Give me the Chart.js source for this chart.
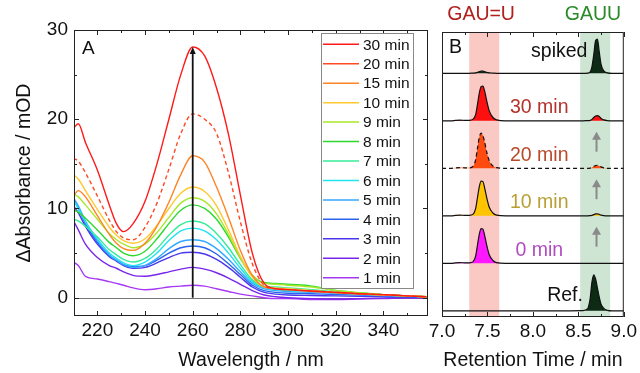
<!DOCTYPE html>
<html>
<head>
<meta charset="utf-8">
<script src="https://cdn.jsdelivr.net/npm/chart.js@4.4.1/dist/chart.umd.min.js"></script>
<style>
  body { margin: 0; background: #fff; width: 640px; height: 373px; position: relative; overflow: hidden; }
  canvas { position: absolute; top: 0; }
  #chartA { left: 0; }
  #chartB { left: 420px; }
</style>
</head>
<body>
<canvas id="chartA" width="436" height="373"></canvas>
<canvas id="chartB" width="220" height="373"></canvas>
<script>
// ---- panel A : difference spectra ----
const wavelengths = [210, 212, 215, 220, 225, 228, 231, 235, 240, 245, 250, 255, 260, 265, 270, 275, 280, 285, 290, 295, 300, 310, 320, 330, 340, 350, 358];
const seriesLabels = ["30 min", "20 min", "15 min", "10 min", "9 min", "8 min", "7 min", "6 min", "5 min", "4 min", "3 min", "2 min", "1 min"];
const abs30 = [19.0, 19.5, 17.4, 14.3, 10.4, 8.3, 7.4, 8.3, 10.8, 15.0, 20.0, 25.0, 28.1, 27.1, 23.5, 18.3, 11.5, 5.0, 1.6, 1.0, 0.9, 0.75, 0.6, 0.45, 0.35, 0.2, 0.1];
const abs20 = [15.6, 15.3, 14.0, 11.4, 8.7, 7.4, 6.7, 6.5, 7.9, 10.6, 14.4, 18.4, 20.6, 20.0, 18.4, 14.0, 8.5, 3.8, 1.4, 1.0, 0.9, 0.75, 0.6, 0.45, 0.35, 0.2, 0.1];
const abs15 = [11.4, 12.0, 11.3, 9.2, 7.1, 6.1, 5.5, 5.3, 6.1, 8.0, 10.7, 13.8, 15.9, 15.2, 12.4, 9.0, 5.3, 2.5, 1.2, 1.0, 0.9, 0.7, 0.55, 0.4, 0.3, 0.2, 0.1];
const abs10 = [13.8, 13.3, 12.0, 9.9, 7.9, 7.0, 6.4, 6.1, 6.6, 8.1, 10.0, 11.7, 12.4, 11.9, 10.3, 7.6, 4.6, 2.3, 1.2, 1.1, 1.0, 0.8, 0.6, 0.45, 0.3, 0.2, 0.1];
const abs9 = [11.6, 11.3, 10.4, 8.8, 7.2, 6.5, 6.0, 5.6, 6.0, 7.3, 9.0, 10.6, 11.2, 10.8, 9.4, 7.1, 4.5, 2.5, 1.6, 1.5, 1.4, 1.2, 0.8, 0.55, 0.35, 0.2, 0.1];
const abs8 = [9.8, 9.6, 8.9, 7.6, 6.2, 5.6, 5.0, 4.7, 5.2, 6.6, 8.3, 9.8, 10.4, 10.0, 8.8, 6.8, 4.4, 2.5, 1.7, 1.6, 1.5, 1.3, 0.8, 0.55, 0.35, 0.2, 0.1];
const abs7 = [8.8, 8.6, 8.0, 6.8, 5.4, 4.8, 4.3, 4.0, 4.4, 5.5, 7.0, 8.2, 8.6, 8.3, 7.2, 5.6, 3.7, 2.0, 1.3, 1.2, 1.1, 0.9, 0.65, 0.45, 0.3, 0.2, 0.1];
const abs6 = [10.9, 10.0, 8.5, 6.6, 5.0, 4.4, 3.9, 3.6, 4.0, 5.0, 6.4, 7.5, 7.8, 7.5, 6.5, 5.0, 3.3, 1.8, 1.1, 0.9, 0.8, 0.7, 0.55, 0.4, 0.3, 0.2, 0.1];
const abs5 = [11.2, 10.3, 8.6, 6.4, 4.8, 4.2, 3.7, 3.4, 3.6, 4.4, 5.5, 6.3, 6.5, 6.3, 5.5, 4.3, 2.9, 1.6, 1.0, 0.8, 0.7, 0.6, 0.5, 0.35, 0.25, 0.15, 0.1];
const abs4 = [11.0, 10.0, 8.3, 6.2, 4.7, 4.2, 3.7, 3.5, 3.6, 4.2, 5.0, 5.6, 5.8, 5.6, 4.9, 3.8, 2.6, 1.4, 0.8, 0.6, 0.5, 0.45, 0.35, 0.3, 0.2, 0.1, 0.05];
const abs3 = [10.3, 9.5, 8.0, 6.0, 4.6, 4.1, 3.6, 3.3, 3.4, 3.9, 4.5, 5.0, 5.1, 4.9, 4.3, 3.4, 2.3, 1.2, 0.6, 0.4, 0.3, 0.25, 0.2, 0.15, 0.1, 0.05, 0.0];
const abs2 = [8.6, 7.6, 6.0, 4.5, 3.6, 3.3, 2.9, 2.5, 2.4, 2.6, 2.9, 3.2, 3.4, 3.2, 2.8, 2.2, 1.5, 0.8, 0.3, 0.1, 0.0, -0.1, -0.15, -0.1, -0.05, 0.0, 0.0];
const abs1 = [4.0, 3.6, 2.4, 2.1, 1.8, 1.6, 1.4, 1.1, 0.9, 1.0, 1.2, 1.3, 1.4, 1.3, 1.0, 0.7, 0.4, 0.2, 0.0, -0.1, -0.1, -0.2, -0.2, -0.15, -0.1, 0.0, 0.0];
const seriesValues = [abs30, abs20, abs15, abs10, abs9, abs8, abs7, abs6, abs5, abs4, abs3, abs2, abs1];
const xTicksA = [220, 240, 260, 280, 300, 320, 340];
const yTicksA = [0, 10, 20, 30];
const arrowTop = 28.1; // growth arrow at 260 nm

// ---- panel B : chromatograms ----
const rtPoints = [7.0, 7.1, 7.15, 7.2, 7.25, 7.3, 7.34, 7.37, 7.39, 7.41, 7.43, 7.45, 7.47, 7.49, 7.52, 7.56, 7.6, 7.7, 8.0, 8.3, 8.55, 8.6, 8.63, 8.65, 8.67, 8.69, 8.71, 8.73, 8.75, 8.78, 8.82, 8.87, 9.0];
const sigSpiked = [0, 0, 0, 0, 0, 0, 0.005, 0.01, 0.02, 0.035, 0.045, 0.045, 0.035, 0.02, 0.01, 0.005, 0, 0, 0, 0, 0, 0.005, 0.03, 0.14, 0.40, 0.69, 0.72, 0.45, 0.19, 0.05, 0.01, 0, 0];
const sig30 = [0, 0, 0.01, 0.015, 0.01, 0.01, 0.03, 0.13, 0.34, 0.58, 0.72, 0.73, 0.62, 0.44, 0.21, 0.07, 0.02, 0, 0, 0, 0, 0.005, 0.01, 0.03, 0.07, 0.10, 0.11, 0.09, 0.05, 0.02, 0.005, 0, 0];
const sig20 = [0, 0, 0.01, 0.015, 0.01, 0.01, 0.04, 0.18, 0.42, 0.65, 0.74, 0.69, 0.55, 0.36, 0.16, 0.05, 0.015, 0, 0, 0, 0, 0, 0.005, 0.02, 0.04, 0.06, 0.065, 0.05, 0.03, 0.01, 0, 0, 0];
const sig10 = [0, 0, 0.01, 0.015, 0.01, 0.01, 0.03, 0.15, 0.38, 0.61, 0.73, 0.72, 0.58, 0.40, 0.18, 0.06, 0.015, 0, 0, 0, 0, 0, 0.005, 0.01, 0.025, 0.04, 0.04, 0.03, 0.015, 0.005, 0, 0, 0];
const sig0 = [0, 0, 0.01, 0.015, 0.01, 0.01, 0.03, 0.15, 0.38, 0.61, 0.73, 0.72, 0.58, 0.40, 0.18, 0.06, 0.015, 0, 0, 0, 0, 0, 0, 0, 0, 0, 0, 0, 0, 0, 0, 0, 0];
const sigRef = [0, 0, 0, 0, 0, 0, 0, 0, 0, 0, 0, 0, 0, 0, 0, 0, 0, 0, 0, 0, 0.005, 0.04, 0.26, 0.61, 0.76, 0.67, 0.48, 0.29, 0.14, 0.05, 0.01, 0, 0];
const traces = [sigSpiked, sig30, sig20, sig10, sig0, sigRef];
const rowNames = ["spiked", "30 min", "20 min", "10 min", "0 min", "Ref."];
const xTicksB = [7.0, 7.5, 8.0, 8.5, 9.0];
const bandGAUeqU = [7.30, 7.63];
const bandGAUU = [8.52, 8.85];

const FONT = "'Liberation Sans', Arial, sans-serif";
Chart.defaults.font.family = FONT;
Chart.defaults.color = "#111";

const lineColors = ["#ff1a1a", "#ff4a24", "#ff8426", "#ffc830", "#a8e82a", "#2ed82e", "#33eb99", "#22e2f2", "#35a8ff", "#2a64ee", "#4a36ee", "#7a26ea", "#a638f5"];
const peakFills = ["#0c2a14", "#ff1010", "#ff4a10", "#ffc400", "#ff18ff", "#0c2a14"];
const labelColors = ["#111", "#b3322c", "#b84a2a", "#b8a035", "#b04cc0", "#111"];

// frame with inward ticks, like the original plot
function drawFrame(chart, xMajor, xMinor, yMajor, yMinor) {
  const { ctx, chartArea: a, scales } = chart;
  const x = scales.x, y = scales.y;
  ctx.save();
  ctx.strokeStyle = "#222";
  ctx.lineWidth = 1;
  ctx.strokeRect(a.left + 0.5, a.top + 0.5, a.right - a.left - 1, a.bottom - a.top - 1);
  ctx.beginPath();
  const tx = (v, len) => {
    const px = Math.round(x.getPixelForValue(v)) + 0.5;
    ctx.moveTo(px, a.bottom); ctx.lineTo(px, a.bottom - len);
    ctx.moveTo(px, a.top); ctx.lineTo(px, a.top + len);
  };
  const ty = (v, len) => {
    const py = Math.round(y.getPixelForValue(v)) + 0.5;
    ctx.moveTo(a.left, py); ctx.lineTo(a.left + len, py);
    ctx.moveTo(a.right, py); ctx.lineTo(a.right - len, py);
  };
  xMajor.forEach(v => tx(v, 5));
  xMinor.forEach(v => tx(v, 3));
  yMajor.forEach(v => ty(v, 5));
  yMinor.forEach(v => ty(v, 3));
  ctx.stroke();
  ctx.restore();
}

const panelAPlugin = {
  id: "panelA",
  beforeDatasetsDraw(chart) {
    const { ctx, chartArea: a, scales: { y } } = chart;
    const py = Math.round(y.getPixelForValue(0)) + 0.5;
    ctx.save();
    ctx.strokeStyle = "#777";
    ctx.lineWidth = 1;
    ctx.beginPath();
    ctx.moveTo(a.left, py); ctx.lineTo(a.right, py);
    ctx.stroke();
    ctx.restore();
  },
  afterDatasetsDraw(chart) {
    const { ctx, chartArea: a, scales: { x, y } } = chart;
    drawFrame(chart, xTicksA, [210, 230, 250, 270, 290, 310, 330, 350], yTicksA, [5, 15, 25]);
    // arrow
    const ax = x.getPixelForValue(260);
    const y0 = y.getPixelForValue(0), y1 = y.getPixelForValue(arrowTop);
    ctx.save();
    ctx.strokeStyle = "#111"; ctx.fillStyle = "#111"; ctx.lineWidth = 1.8;
    ctx.beginPath(); ctx.moveTo(ax, y0); ctx.lineTo(ax, y1 + 5); ctx.stroke();
    ctx.beginPath(); ctx.moveTo(ax, y1); ctx.lineTo(ax - 3, y1 + 7); ctx.lineTo(ax + 3, y1 + 7); ctx.closePath(); ctx.fill();
    // panel letter
    ctx.font = "19px " + FONT;
    ctx.textBaseline = "middle"; ctx.textAlign = "left";
    ctx.fillText("A", a.left + 8, a.top + 19);
    // legend box
    const lx = 321, ly = 33, lw = 92, lh = 255;
    ctx.fillStyle = "#fff";
    ctx.fillRect(lx, ly, lw, lh);
    ctx.strokeStyle = "#888"; ctx.lineWidth = 1;
    ctx.strokeRect(lx + 0.5, ly + 0.5, lw, lh);
    ctx.font = "15.5px " + FONT;
    chart.data.datasets.forEach((ds, i) => {
      const ry = 44.3 + i * 19.45;
      ctx.strokeStyle = ds.borderColor; ctx.lineWidth = 1.5;
      ctx.beginPath(); ctx.moveTo(323, ry); ctx.lineTo(359, ry); ctx.stroke();
      ctx.fillStyle = "#111";
      ctx.fillText(ds.label, 363, ry + 1);
    });
    ctx.restore();
  }
};

new Chart(document.getElementById("chartA"), {
  type: "line",
  data: {
    datasets: seriesLabels.map((lab, i) => ({
      label: lab,
      data: wavelengths.map((w, j) => ({ x: w, y: seriesValues[i][j] })),
      borderColor: lineColors[i],
      borderWidth: 1.4,
      borderDash: lab === "20 min" ? [4, 3] : [],
      pointRadius: 0,
      tension: 0.4,
      cubicInterpolationMode: "monotone",
      fill: false
    }))
  },
  options: {
    responsive: false,
    animation: false,
    devicePixelRatio: 1,
    layout: { padding: { top: 30, right: 8, left: 0, bottom: 0 } },
    plugins: { legend: { display: false }, tooltip: { enabled: false } },
    scales: {
      x: {
        type: "linear", min: 210.2, max: 358.7,
        grid: { display: false, drawTicks: false },
        border: { display: false },
        afterBuildTicks: s => { s.ticks = xTicksA.map(v => ({ value: v })); },
        afterFit: s => { s.height = 57; },
        ticks: { font: { size: 19 }, padding: 3, maxRotation: 0 },
        title: { display: true, text: "Wavelength / nm", font: { size: 19.5 }, padding: { top: 0, bottom: 1 } }
      },
      y: {
        type: "linear", min: -2.05, max: 30,
        grid: { display: false, drawTicks: false },
        border: { display: false },
        afterBuildTicks: s => { s.ticks = yTicksA.map(v => ({ value: v })); },
        afterFit: s => { s.width = 74; },
        ticks: { font: { size: 19 }, padding: 6 },
        title: { display: true, text: "ΔAbsorbance / mOD", font: { size: 19.5 }, padding: { top: 13, bottom: 0 } }
      }
    }
  },
  plugins: [panelAPlugin]
});

// ---- panel B ----
const panelBPlugin = {
  id: "panelB",
  beforeDatasetsDraw(chart) {
    const { ctx, chartArea: a, scales: { x } } = chart;
    ctx.save();
    ctx.fillStyle = "#fac9c4";
    let l = x.getPixelForValue(bandGAUeqU[0]), r = x.getPixelForValue(bandGAUeqU[1]);
    ctx.fillRect(l, a.top, r - l, a.bottom - a.top);
    ctx.fillStyle = "#cfe5d4";
    l = x.getPixelForValue(bandGAUU[0]); r = x.getPixelForValue(bandGAUU[1]);
    ctx.fillRect(l, a.top, r - l, a.bottom - a.top);
    ctx.restore();
  },
  afterDatasetsDraw(chart) {
    const { ctx, chartArea: a, scales: { x, y } } = chart;
    drawFrame(chart, xTicksB, [7.25, 7.75, 8.25, 8.75], [], []);
    ctx.save();
    // arrows in GAUU window
    ctx.strokeStyle = "#8a8a8a"; ctx.fillStyle = "#8a8a8a"; ctx.lineWidth = 2;
    [2, 3, 4].forEach(row => {
      const base = (5 - row) + 0.13;
      const ax = x.getPixelForValue(8.70);
      const yb = y.getPixelForValue(base + 0.35), yt = y.getPixelForValue(base + 0.77);
      ctx.beginPath(); ctx.moveTo(ax, yb); ctx.lineTo(ax, yt + 6); ctx.stroke();
      ctx.beginPath(); ctx.moveTo(ax, yt); ctx.lineTo(ax - 4.5, yt + 8); ctx.lineTo(ax + 4.5, yt + 8); ctx.closePath(); ctx.fill();
    });
    // row labels
    ctx.font = "19.5px " + FONT;
    ctx.textBaseline = "middle";
    rowNames.forEach((name, i) => {
      const base = (5 - i) + 0.13;
      ctx.fillStyle = labelColors[i];
      if (i === 0) { ctx.textAlign = "right"; ctx.fillText(name, x.getPixelForValue(8.60), y.getPixelForValue(base + 0.45)); }
      else if (i === 5) { ctx.textAlign = "right"; ctx.fillText(name, x.getPixelForValue(8.55), y.getPixelForValue(base + 0.33)); }
      else { ctx.textAlign = "center"; ctx.fillText(name, x.getPixelForValue(8.07), y.getPixelForValue(base + 0.27)); }
    });
    ctx.fillStyle = "#111"; ctx.textAlign = "left";
    ctx.fillText("B", a.left + 7, a.top + 16);
    // peak names above frame
    ctx.textAlign = "center";
    ctx.fillStyle = "#b0201c";
    ctx.fillText("GAU=U", x.getPixelForValue(7.43), 15);
    ctx.fillStyle = "#2a8a2a";
    ctx.fillText("GAUU", x.getPixelForValue(8.66), 15);
    ctx.restore();
  }
};

new Chart(document.getElementById("chartB"), {
  type: "line",
  data: {
    datasets: traces.map((sig, i) => {
      const base = (5 - i) + 0.13;
      return {
        label: rowNames[i],
        data: rtPoints.map((t, j) => ({ x: t, y: base + sig[j] })),
        borderColor: "#111",
        borderWidth: 1.2,
        borderDash: rowNames[i] === "20 min" ? [4, 3] : [],
        backgroundColor: peakFills[i],
        fill: { value: base },
        pointRadius: 0,
        tension: 0.4,
        cubicInterpolationMode: "monotone"
      };
    })
  },
  options: {
    responsive: false,
    animation: false,
    devicePixelRatio: 1,
    layout: { padding: { top: 32, right: 11, left: 22, bottom: 0 } },
    plugins: { legend: { display: false }, tooltip: { enabled: false } },
    scales: {
      x: {
        type: "linear", min: 7.0, max: 9.0,
        grid: { display: false, drawTicks: false },
        border: { display: false },
        afterBuildTicks: s => { s.ticks = xTicksB.map(v => ({ value: v })); },
        afterFit: s => { s.height = 56; },
        ticks: { font: { size: 19 }, padding: 3, maxRotation: 0, callback: v => Number(v).toFixed(1) },
        title: { display: true, text: "Retention Time / min", font: { size: 19.5 }, padding: { top: 0, bottom: 1 } }
      },
      y: { type: "linear", min: 0, max: 6, display: false }
    }
  },
  plugins: [panelBPlugin]
});
</script>
</body>
</html>
